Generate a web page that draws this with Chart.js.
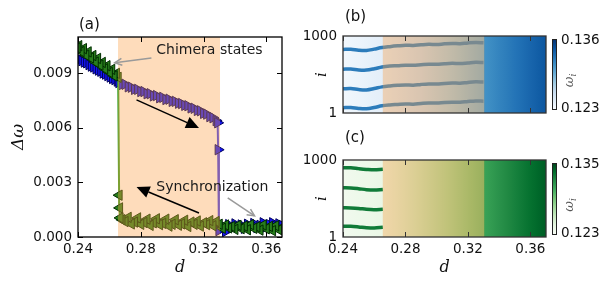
<!DOCTYPE html>
<html><head><meta charset="utf-8">
<script src="https://cdn.jsdelivr.net/npm/chart.js@4.4.0/dist/chart.umd.min.js"></script>
<style>
html,body{margin:0;padding:0;background:#fff;width:613px;height:289px;overflow:hidden}
canvas{position:absolute;left:0;top:0}
</style></head><body>
<canvas id="ca" width="613" height="289"></canvas>
<canvas id="cb" width="613" height="289"></canvas>
<canvas id="cc" width="613" height="289"></canvas>
<script>
// ---------------- data ----------------
// (a) forward sweep (increasing d), blue right-pointing triangles
const fwdD = [0.2395,0.241,0.2425,0.244,0.2455,0.247,0.2485,0.250,0.2515,0.253,0.2545,0.256,0.2575,0.259,0.2605,0.262,0.2635,0.265,
  0.266,0.268,0.270,0.272,0.274,0.276,0.278,0.280,0.282,0.284,0.286,0.288,0.290,0.292,0.294,0.296,0.298,0.300,0.302,0.304,0.306,0.308,0.310,0.312,0.314,0.316,0.318,0.320,0.322,0.324,0.326,0.328,
  0.329,0.3293,0.3298,
  0.332,0.334,0.336,0.338,0.340,0.342,0.344,0.346,0.348,0.350,0.352,0.354,0.356,0.358,0.360,0.362,0.364,0.366,0.368,0.370];
const fwdDw = [0.00985,0.00978,0.00970,0.00962,0.00958,0.00948,0.00940,0.00935,0.00925,0.00918,0.00912,0.00902,0.00896,0.00888,0.00880,0.00872,0.00866,0.00858,
  0.00850,0.00838,0.00840,0.00826,0.00824,0.00812,0.00812,0.00800,0.00800,0.00788,0.00788,0.00776,0.00778,0.00766,0.00768,0.00756,0.00758,0.00746,0.00746,0.00736,0.00734,0.00724,0.00722,0.00710,0.00708,0.00696,0.00694,0.00680,0.00676,0.00662,0.00656,0.00640,
  0.00628,0.00480,0.00035,
  0.00062,0.00030,0.00068,0.00050,0.00072,0.00055,0.00066,0.00048,0.00070,0.00058,0.00074,0.00052,0.00064,0.00078,0.00056,0.00068,0.00078,0.00060,0.00072,0.00064];
// (a) backward sweep (decreasing d), green left-pointing triangles
const bwdD = [0.370,0.368,0.366,0.364,0.362,0.360,0.358,0.356,0.354,0.352,0.350,0.348,0.346,0.344,0.342,0.340,0.338,0.336,0.334,0.332,
  0.330,0.328,0.326,0.324,0.322,0.320,0.318,0.316,0.314,0.312,0.310,0.308,0.306,0.304,0.302,0.300,0.298,0.296,0.294,0.292,0.290,0.288,0.286,0.284,0.282,0.280,0.278,0.276,0.274,0.272,0.270,0.268,
  0.2668,0.2665,0.2662,0.2656,
  0.2645,0.263,0.2615,0.260,0.2585,0.257,0.2555,0.254,0.2525,0.251,0.2495,0.248,0.2465,0.245,0.2435,0.242,0.2405,0.2395];
const bwdDw = [0.00052,0.00040,0.00062,0.00035,0.00058,0.00045,0.00066,0.00038,0.00056,0.00048,0.00068,0.00040,0.00060,0.00046,0.00064,0.00042,0.00058,0.00050,0.00066,0.00048,
  0.00070,0.00085,0.00062,0.00090,0.00068,0.00078,0.00060,0.00088,0.00070,0.00082,0.00058,0.00092,0.00072,0.00065,0.00095,0.00070,0.00060,0.00098,0.00075,0.00068,0.00100,0.00078,0.00064,0.00098,0.00080,0.00070,0.00105,0.00082,0.00072,0.00108,0.00085,0.00095,
  0.00105,0.00160,0.00230,0.00878,
  0.00900,0.00886,0.00922,0.00905,0.00942,0.00925,0.00960,0.00945,0.00982,0.00962,0.00998,0.00985,0.01018,0.01000,0.01036,0.01020,0.01052,0.01040];

const xTicks = [0.24, 0.28, 0.32, 0.36];
const xTickLabels = ['0.24', '0.28', '0.32', '0.36'];
const yTicksA = [0, 0.003, 0.006, 0.009];
const yTickLabelsA = ['0.000', '0.003', '0.006', '0.009'];
const iTicks = [1, 1000];
const iTickLabels = ['1', '1000'];

const chimeraBounds = [0.2655, 0.3305];
const annotTexts = ['Chimera states', 'Synchronization'];
const annotX = [0.2899, 0.2899];
const annotY = [0.01029, 0.00275];
const blackArrowFrom = [[0.2773, 0.00754], [0.3171, 0.00132]];
const blackArrowTo   = [[0.3171, 0.00600], [0.2773, 0.00275]];
const grayArrowFrom  = [[0.2868, 0.00985], [0.3354, 0.00215]];
const grayArrowTo    = [[0.2634, 0.00958], [0.3525, 0.00116]];

// (b),(c) heat maps: regions in d and mean frequency at region start / end
const regionStart = [0.24, 0.2655, 0.3305];
const regionEnd   = [0.2655, 0.3305, 0.37];
const omegaStartB = [0.1234, 0.1244, 0.1311];
const omegaEndB   = [0.1243, 0.1294, 0.1341];
const omegaStartC = [0.1235, 0.1242, 0.1309];
const omegaEndC   = [0.1241, 0.1296, 0.1341];
const omegaRangeB = [0.123, 0.136];
const omegaRangeC = [0.123, 0.135];
const cbLabelsB = ['0.136', '0.123'];
const cbLabelsC = ['0.135', '0.123'];

// coherent-cluster traces (oscillator index i vs d)
const lineDB = [0.240,0.245,0.250,0.255,0.260,0.265,0.270,0.275,0.280,0.285,0.290,0.295,0.300,0.305,0.310,0.315,0.320,0.325,0.330];
const lineB1 = [825,828,815,812,830,850,862,872,880,878,886,892,890,898,903,900,910,916,912];
const lineB2 = [570,572,560,558,575,598,610,615,622,620,628,635,632,640,645,642,650,658,655];
const lineB3 = [315,318,305,300,318,340,352,360,365,362,372,378,376,385,390,388,398,405,402];
const lineB4 = [70,72,60,56,72,95,106,112,118,116,125,132,130,138,142,140,150,158,155];
const lineOmegaB = 0.1322;
const lineDC = [0.240,0.245,0.250,0.255,0.260,0.2655];
const lineC1 = [898,900,888,878,872,880];
const lineC2 = [640,638,628,615,610,618];
const lineC3 = [380,378,372,360,355,362];
const lineC4 = [142,140,132,122,118,126];
const lineOmegaC = 0.1328;

// ---------------- styles / helpers ----------------
const SHADE = 'rgba(252,160,70,0.37)';
const TICKFONT = {family: 'DejaVu Sans', size: 13.5};
const BLUES = [[247,251,255],[222,235,247],[198,219,239],[158,202,225],[107,174,214],[66,146,198],[33,113,181],[8,81,156],[8,48,107]];
const GREENS = [[247,252,245],[229,245,224],[199,233,192],[161,217,155],[116,196,118],[65,171,93],[35,139,69],[0,109,44],[0,68,27]];
function cmap(stops, t) {
  t = Math.max(0, Math.min(1, t));
  const p = t * (stops.length - 1);
  const i = Math.min(Math.floor(p), stops.length - 2);
  const f = p - i, a = stops[i], b = stops[i + 1];
  return 'rgb(' + [0,1,2].map(k => Math.round(a[k] + (b[k] - a[k]) * f)).join(',') + ')';
}
const pts = (xs, ys) => xs.map((x, i) => ({x: x, y: ys[i]}));

function arrowFilled(ctx, x0, y0, x1, y1, len, w, color, lw) {
  const a = Math.atan2(y1 - y0, x1 - x0), c = Math.cos(a), s = Math.sin(a);
  const bx = x1 - len * c, by = y1 - len * s;
  ctx.strokeStyle = color; ctx.lineWidth = lw;
  ctx.beginPath(); ctx.moveTo(x0, y0); ctx.lineTo(bx, by); ctx.stroke();
  ctx.fillStyle = color; ctx.beginPath();
  ctx.moveTo(x1, y1); ctx.lineTo(bx + w / 2 * s, by - w / 2 * c); ctx.lineTo(bx - w / 2 * s, by + w / 2 * c);
  ctx.closePath(); ctx.fill();
}
function arrowOpen(ctx, x0, y0, x1, y1, len, color, lw) {
  const a = Math.atan2(y1 - y0, x1 - x0);
  ctx.strokeStyle = color; ctx.lineWidth = lw;
  ctx.beginPath(); ctx.moveTo(x0, y0); ctx.lineTo(x1, y1); ctx.stroke();
  ctx.beginPath();
  ctx.moveTo(x1 - len * Math.cos(a - 0.45), y1 - len * Math.sin(a - 0.45));
  ctx.lineTo(x1, y1);
  ctx.lineTo(x1 - len * Math.cos(a + 0.45), y1 - len * Math.sin(a + 0.45));
  ctx.stroke();
}

function shadePlugin() {
  return {id: 'shade', afterDatasetsDraw(chart) {
    const {ctx, chartArea: a} = chart, x = chart.scales.x;
    const x0 = x.getPixelForValue(chimeraBounds[0]), x1 = x.getPixelForValue(chimeraBounds[1]);
    ctx.save(); ctx.fillStyle = SHADE; ctx.fillRect(x0, a.top, x1 - x0, a.bottom - a.top); ctx.restore();
  }};
}
function framePlugin(color, lw, yid, yT, label, lx, ly) {
  return {id: 'frame', afterDraw(chart) {
    const {ctx, chartArea: a} = chart, x = chart.scales.x, y = chart.scales[yid];
    ctx.save();
    ctx.strokeStyle = color; ctx.lineWidth = 1;
    const L = 5;
    ctx.beginPath();
    xTicks.forEach(v => { const p = Math.round(x.getPixelForValue(v)) + 0.5;
      ctx.moveTo(p, a.bottom); ctx.lineTo(p, a.bottom - L); ctx.moveTo(p, a.top); ctx.lineTo(p, a.top + L); });
    yT.forEach(v => { const p = Math.round(y.getPixelForValue(v)) + 0.5;
      ctx.moveTo(a.left, p); ctx.lineTo(a.left + L, p); ctx.moveTo(a.right, p); ctx.lineTo(a.right - L, p); });
    ctx.stroke();
    ctx.lineWidth = lw;
    ctx.strokeRect(a.left, a.top, a.right - a.left, a.bottom - a.top);
    ctx.fillStyle = '#111'; ctx.font = '15px "DejaVu Sans"'; ctx.textBaseline = 'middle'; ctx.textAlign = 'left';
    ctx.fillText(label, a.left + lx, a.top + ly);
    ctx.restore();
  }};
}
const annotPlugin = {id: 'annot', afterDatasetsDraw(chart) {
  const {ctx} = chart, x = chart.scales.x, y = chart.scales.y;
  const P = (v) => [x.getPixelForValue(v[0]), y.getPixelForValue(v[1])];
  ctx.save();
  for (let k = 0; k < 2; k++) {
    const f = P(blackArrowFrom[k]), t = P(blackArrowTo[k]);
    arrowFilled(ctx, f[0], f[1], t[0], t[1], 13, 12, '#000', 1.5);
    const g0 = P(grayArrowFrom[k]), g1 = P(grayArrowTo[k]);
    arrowOpen(ctx, g0[0], g0[1], g1[0], g1[1], 8, '#9a9a9a', 1.5);
    ctx.fillStyle = '#1a1a1a'; ctx.font = '14px "DejaVu Sans"'; ctx.textBaseline = 'middle'; ctx.textAlign = 'left';
    ctx.fillText(annotTexts[k], x.getPixelForValue(annotX[k]), y.getPixelForValue(annotY[k]));
  }
  ctx.restore();
}};
function colorbarPlugin(stops, labels, botInset) {
  return {id: 'cbar', afterDraw(chart) {
    const {ctx, chartArea: a} = chart;
    const x0 = a.right + 6, w = 4, top = a.top + 3, bot = a.bottom - botInset;
    ctx.save();
    const g = ctx.createLinearGradient(0, bot, 0, top);
    for (let k = 0; k <= 16; k++) g.addColorStop(k / 16, cmap(stops, k / 16));
    ctx.fillStyle = g; ctx.fillRect(x0, top, w, bot - top);
    ctx.strokeStyle = '#222'; ctx.lineWidth = 1; ctx.strokeRect(x0 + 0.5, top + 0.5, w, bot - top);
    ctx.fillStyle = '#111'; ctx.font = '13.5px "DejaVu Sans"'; ctx.textBaseline = 'middle'; ctx.textAlign = 'left';
    ctx.fillText(labels[0], x0 + 9, top + 1);
    ctx.fillText(labels[1], x0 + 9, bot - 1);
    ctx.translate(x0 + 18, (top + bot) / 2 + 6); ctx.rotate(-Math.PI / 2);
    ctx.fillStyle = '#555'; ctx.textAlign = 'center';
    ctx.font = 'italic 13px "DejaVu Serif"'; ctx.fillText('\u03c9', -2, 0);
    ctx.font = 'italic 9px "DejaVu Serif"'; ctx.fillText('i', 5, 4);
    ctx.restore();
  }};
}

const base = {responsive: false, animation: false, devicePixelRatio: 1,
  plugins: {legend: {display: false}, tooltip: {enabled: false}}};

// ---------------- panel (a) ----------------
new Chart(document.getElementById('ca'), {
  type: 'scatter',
  data: {datasets: [
    {label: 'backward', data: pts(bwdD, bwdDw), order: 1, showLine: true, borderColor: 'rgb(50,160,40)', borderWidth: 2,
     pointStyle: 'triangle', rotation: -90, pointRadius: 6, pointBackgroundColor: 'rgb(40,125,28)',
     pointBorderColor: 'rgb(0,45,0)', pointBorderWidth: 1, clip: 0},
    {label: 'forward', data: pts(fwdD, fwdDw), order: 2, showLine: true, borderColor: 'rgb(60,60,240)', borderWidth: 2,
     pointStyle: 'triangle', rotation: 90, pointRadius: 6, pointBackgroundColor: 'rgb(22,22,245)',
     pointBorderColor: 'rgb(0,0,90)', pointBorderWidth: 1, clip: 0}
  ]},
  options: Object.assign({}, base, {
    layout: {padding: {left: 0, top: 37, right: 331, bottom: 0}},
    scales: {
      x: {type: 'linear', min: 0.24, max: 0.37, grid: {display: false, drawTicks: false}, border: {display: false},
        afterBuildTicks: s => { s.ticks = xTicks.map(v => ({value: v})); },
        afterFit: s => { s.height = 52; },
        ticks: {autoSkip: false, maxRotation: 0, padding: 4, color: '#111', font: TICKFONT, callback: (v, i) => xTickLabels[i]},
        title: {display: true, text: 'd', color: '#111', font: {family: 'DejaVu Serif', style: 'italic', size: 16}, padding: {top: 0, bottom: 12}}},
      y: {type: 'linear', min: 0, max: 0.011, grid: {display: false, drawTicks: false}, border: {display: false},
        afterBuildTicks: s => { s.ticks = yTicksA.map(v => ({value: v})); },
        afterFit: s => { s.width = 78; },
        ticks: {autoSkip: false, padding: 6, color: '#111', font: TICKFONT, callback: (v, i) => yTickLabelsA[i]},
        title: {display: true, text: '\u0394\u03c9', color: '#111', font: {family: 'DejaVu Serif', style: 'italic', size: 17}, padding: {top: 8, bottom: 0}}}
    }
  }),
  plugins: [shadePlugin(), annotPlugin, framePlugin('#000', 1.3, 'y', yTicksA, '(a)', 1, -12)]
});

// ---------------- panels (b), (c) ----------------
function heatChart(id, stops, range, os, oe, lineD, lines, lineOmega, top, showX, label, lblY, cbLabels, cbInset) {
  const lineColor = cmap(stops, (lineOmega - range[0]) / (range[1] - range[0]));
  const regionBar = {
    type: 'bar', indexAxis: 'y', xAxisID: 'x', yAxisID: 'yc', order: 10, grouped: false,
    barPercentage: 1, categoryPercentage: 1, borderWidth: 0, borderSkipped: false,
    data: regionStart.map((s, i) => ({x: [s, regionEnd[i]], y: 'r'})),
    backgroundColor: (ctx) => {
      const chart = ctx.chart, xs = chart.scales && chart.scales.x;
      if (!xs || ctx.type !== 'data') return 'rgba(0,0,0,0)';
      const i = ctx.dataIndex;
      const x0 = xs.getPixelForValue(regionStart[i]), x1 = xs.getPixelForValue(regionEnd[i]);
      if (!isFinite(x0) || !isFinite(x1) || x1 <= x0) return cmap(stops, (os[i] - range[0]) / (range[1] - range[0]));
      const g = chart.ctx.createLinearGradient(x0, 0, x1, 0);
      for (let k = 0; k <= 8; k++) {
        const w = os[i] + (oe[i] - os[i]) * k / 8;
        g.addColorStop(k / 8, cmap(stops, (w - range[0]) / (range[1] - range[0])));
      }
      return g;
    }
  };
  const lineSets = lines.map(ys => ({type: 'line', xAxisID: 'x', yAxisID: 'y', order: 1, data: pts(lineD, ys),
    borderColor: lineColor, borderWidth: 3.5, pointRadius: 0, tension: 0.35, clip: 0}));
  const xScale = {type: 'linear', axis: 'x', position: 'bottom', min: 0.24, max: 0.37, offset: false, display: showX,
    grid: {display: false, drawTicks: false, offset: false}, border: {display: false},
    afterBuildTicks: s => { s.ticks = xTicks.map(v => ({value: v})); },
    ticks: {autoSkip: false, maxRotation: 0, padding: 4, color: '#111', font: TICKFONT, callback: (v, i) => xTickLabels[i]},
    title: {display: true, text: 'd', color: '#111', font: {family: 'DejaVu Serif', style: 'italic', size: 16}, padding: {top: 0, bottom: 12}}};
  if (showX) xScale.afterFit = s => { s.height = 52; };
  return new Chart(document.getElementById(id), {
    type: 'bar',
    data: {datasets: [regionBar].concat(lineSets)},
    options: Object.assign({}, base, {
      layout: {padding: {left: 300, top: top, right: 67, bottom: showX ? 0 : 289 - (top + 77)}},
      scales: {
        x: xScale,
        y: {type: 'linear', axis: 'y', position: 'left', min: 1, max: 1000, offset: false,
          grid: {display: false, drawTicks: false}, border: {display: false},
          afterBuildTicks: s => { s.ticks = iTicks.map(v => ({value: v})); },
          afterFit: s => { s.width = 43; },
          ticks: {autoSkip: false, padding: 6, color: '#111', font: TICKFONT, callback: (v, i) => iTickLabels[i]},
          title: {display: true, text: 'i', color: '#111', font: {family: 'DejaVu Serif', style: 'italic', size: 15}, padding: {top: 13, bottom: 0}}},
        yc: {type: 'category', axis: 'y', labels: ['r'], display: false, offset: true}
      }
    }),
    plugins: [shadePlugin(), framePlugin('#333', 1.3, 'y', [], label, 2, lblY), colorbarPlugin(stops, cbLabels, cbInset)]
  });
}
heatChart('cb', BLUES, omegaRangeB, omegaStartB, omegaEndB, lineDB, [lineB1, lineB2, lineB3, lineB4], lineOmegaB, 36, false, '(b)', -19, cbLabelsB, 4);
heatChart('cc', GREENS, omegaRangeC, omegaStartC, omegaEndC, lineDC, [lineC1, lineC2, lineC3, lineC4], lineOmegaC, 160, true, '(c)', -22, cbLabelsC, 3);
</script>
</body></html>
